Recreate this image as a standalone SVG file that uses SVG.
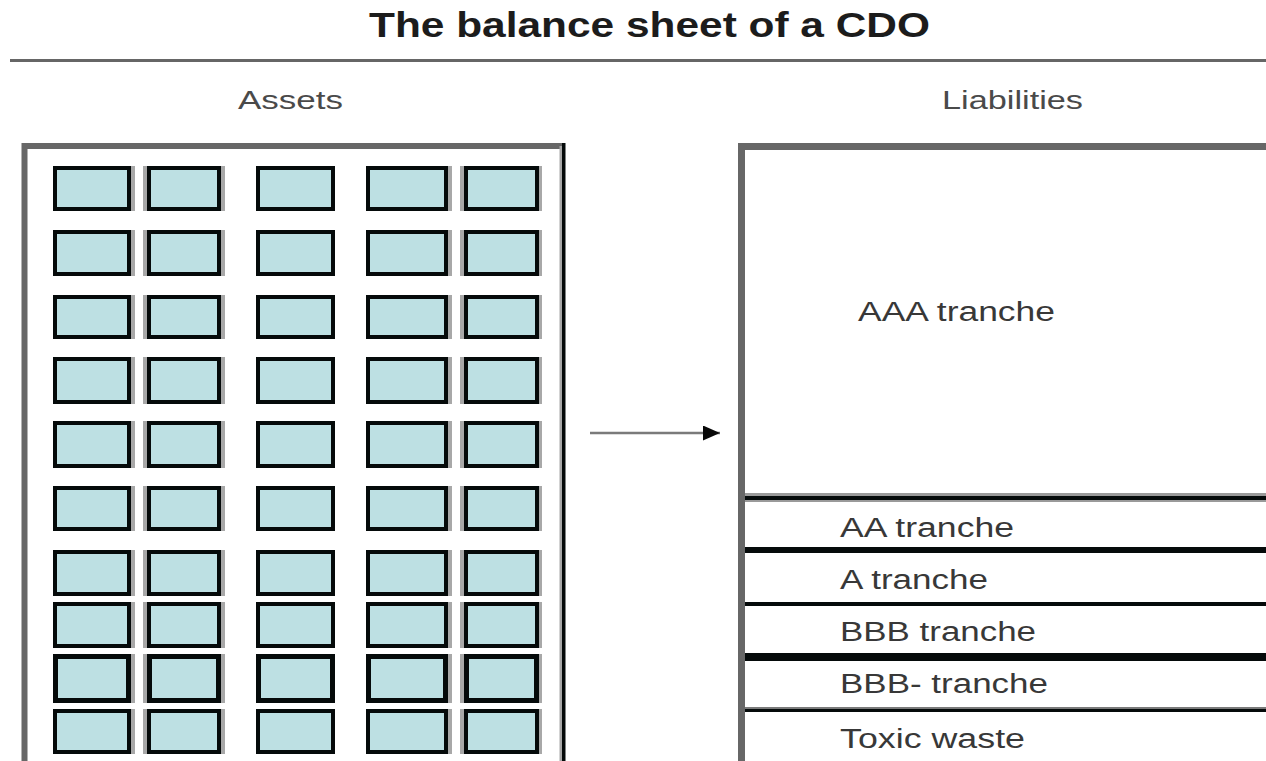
<svg xmlns="http://www.w3.org/2000/svg" width="1266" height="761" viewBox="0 0 1266 761">
  <style>
    .title { font-family: "Liberation Sans", Arial, sans-serif; font-weight: bold; font-size: 35px; fill: #1c1c1c; }
    .head { font-family: "Liberation Sans", Arial, sans-serif; font-size: 26px; fill: #4a4a4a; }
    .lbl { font-family: "Liberation Sans", Arial, sans-serif; font-size: 27px; fill: #383838; }
    .frame { fill: none; stroke: #676767; stroke-width: 6; }
    .cell { fill: #bde0e3; stroke: #050a0a; stroke-width: 4; }
    .sh { fill: #a8a8a8; }
    .gap { fill: #ffffff; }
    .rule { fill: #050a0a; }
    .conn { stroke: #7a7a7a; stroke-width: 2.5; fill: none; }
  </style>
  <defs>
    <marker id="arrow" viewBox="0 0 17 15" refX="17" refY="7.5" markerWidth="17" markerHeight="15" markerUnits="userSpaceOnUse" orient="auto">
      <path d="M0,0 L17,7.5 L0,15 Z" fill="#080808"/>
    </marker>
  </defs>

  <rect width="1266" height="761" fill="#ffffff"/>

  <!-- heading -->
  <text class="title" x="369" y="37" textLength="561" lengthAdjust="spacingAndGlyphs">The balance sheet of a CDO</text>
  <rect x="10" y="59" width="1256" height="3" fill="#666666"/>
  <text class="head" x="238" y="109" textLength="105" lengthAdjust="spacingAndGlyphs">Assets</text>
  <text class="head" x="942" y="109" textLength="141" lengthAdjust="spacingAndGlyphs">Liabilities</text>

  <!-- asset pool -->
  <g id="assets">
    <g id="asset-cells">
      <!-- grey shading beside the columns -->
      <rect class="sh" x="131" y="166" width="4" height="588"/>
      <rect class="sh" x="221" y="166" width="4" height="588"/>
      <rect class="sh" x="143" y="166" width="4" height="588"/>
      <rect class="sh" x="448" y="166" width="4" height="588"/>
      <rect class="sh" x="460" y="166" width="4" height="588"/>
      <rect class="sh" x="539" y="166" width="3" height="588"/>
      <!-- gaps between rows -->
      <rect class="gap" x="45" y="211" width="505" height="19"/>
      <rect class="gap" x="45" y="276" width="505" height="19"/>
      <rect class="gap" x="45" y="339" width="505" height="18"/>
      <rect class="gap" x="45" y="404" width="505" height="17"/>
      <rect class="gap" x="45" y="468" width="505" height="18"/>
      <rect class="gap" x="45" y="531" width="505" height="19"/>
      <rect class="gap" x="45" y="596" width="505" height="6"/>
      <rect class="gap" x="45" y="648" width="505" height="6"/>
      <rect class="gap" x="45" y="703" width="505" height="6"/>
      <!-- row 1 -->
      <rect class="cell" x="55" y="168" width="74" height="41"/>
      <rect class="cell" x="149" y="168" width="70" height="41"/>
      <rect class="cell" x="258" y="168" width="75" height="41"/>
      <rect class="cell" x="368" y="168" width="78" height="41"/>
      <rect class="cell" x="466" y="168" width="71" height="41"/>
      <!-- row 2 -->
      <rect class="cell" x="55" y="232" width="74" height="42"/>
      <rect class="cell" x="149" y="232" width="70" height="42"/>
      <rect class="cell" x="258" y="232" width="75" height="42"/>
      <rect class="cell" x="368" y="232" width="78" height="42"/>
      <rect class="cell" x="466" y="232" width="71" height="42"/>
      <!-- row 3 -->
      <rect class="cell" x="55" y="297" width="74" height="40"/>
      <rect class="cell" x="149" y="297" width="70" height="40"/>
      <rect class="cell" x="258" y="297" width="75" height="40"/>
      <rect class="cell" x="368" y="297" width="78" height="40"/>
      <rect class="cell" x="466" y="297" width="71" height="40"/>
      <!-- row 4 -->
      <rect class="cell" x="55" y="359" width="74" height="43"/>
      <rect class="cell" x="149" y="359" width="70" height="43"/>
      <rect class="cell" x="258" y="359" width="75" height="43"/>
      <rect class="cell" x="368" y="359" width="78" height="43"/>
      <rect class="cell" x="466" y="359" width="71" height="43"/>
      <!-- row 5 -->
      <rect class="cell" x="55" y="423" width="74" height="43"/>
      <rect class="cell" x="149" y="423" width="70" height="43"/>
      <rect class="cell" x="258" y="423" width="75" height="43"/>
      <rect class="cell" x="368" y="423" width="78" height="43"/>
      <rect class="cell" x="466" y="423" width="71" height="43"/>
      <!-- row 6 -->
      <rect class="cell" x="55" y="488" width="74" height="41"/>
      <rect class="cell" x="149" y="488" width="70" height="41"/>
      <rect class="cell" x="258" y="488" width="75" height="41"/>
      <rect class="cell" x="368" y="488" width="78" height="41"/>
      <rect class="cell" x="466" y="488" width="71" height="41"/>
      <!-- row 7 -->
      <rect class="cell" x="55" y="552" width="74" height="42"/>
      <rect class="cell" x="149" y="552" width="70" height="42"/>
      <rect class="cell" x="258" y="552" width="75" height="42"/>
      <rect class="cell" x="368" y="552" width="78" height="42"/>
      <rect class="cell" x="466" y="552" width="71" height="42"/>
      <!-- row 8 -->
      <rect class="cell" x="55" y="604" width="74" height="42"/>
      <rect class="cell" x="149" y="604" width="70" height="42"/>
      <rect class="cell" x="258" y="604" width="75" height="42"/>
      <rect class="cell" x="368" y="604" width="78" height="42"/>
      <rect class="cell" x="466" y="604" width="71" height="42"/>
      <!-- row 9 (heavier outline) -->
      <rect class="cell" x="55.5" y="656.5" width="73" height="44" style="stroke-width:5"/>
      <rect class="cell" x="149.5" y="656.5" width="69" height="44" style="stroke-width:5"/>
      <rect class="cell" x="258.5" y="656.5" width="74" height="44" style="stroke-width:5"/>
      <rect class="cell" x="368.5" y="656.5" width="77" height="44" style="stroke-width:5"/>
      <rect class="cell" x="466.5" y="656.5" width="70" height="44" style="stroke-width:5"/>
      <!-- row 10 -->
      <rect class="cell" x="55" y="711" width="74" height="41"/>
      <rect class="cell" x="149" y="711" width="70" height="41"/>
      <rect class="cell" x="258" y="711" width="75" height="41"/>
      <rect class="cell" x="368" y="711" width="78" height="41"/>
      <rect class="cell" x="466" y="711" width="71" height="41"/>
    </g>
    <!-- open-bottomed frame -->
    <path class="frame" d="M24.5,761 V146 H563"/>
    <rect x="559.5" y="146" width="2.5" height="615" fill="#a8a8a8"/>
    <rect x="562" y="143" width="3.5" height="618" fill="#050a0a"/>
  </g>

  <!-- tranche stack -->
  <g id="liabilities">
    <path class="frame" d="M741.5,761 V146.5 H1266" style="stroke-width:7"/>
    <g id="tranche-aaa">
      <text class="lbl" x="858" y="321" textLength="197" lengthAdjust="spacingAndGlyphs">AAA tranche</text>
    </g>
    <g id="tranche-aa">
      <rect x="745" y="493" width="521" height="9" fill="#9a9a9a"/>
      <rect class="rule" x="745" y="496" width="521" height="4"/>
      <text class="lbl" x="840" y="537" textLength="174" lengthAdjust="spacingAndGlyphs">AA tranche</text>
    </g>
    <g id="tranche-a">
      <rect class="rule" x="745" y="547" width="521" height="6"/>
      <text class="lbl" x="840" y="589" textLength="148" lengthAdjust="spacingAndGlyphs">A tranche</text>
    </g>
    <g id="tranche-bbb">
      <rect class="rule" x="745" y="602" width="521" height="4"/>
      <text class="lbl" x="840" y="641" textLength="196" lengthAdjust="spacingAndGlyphs">BBB tranche</text>
    </g>
    <g id="tranche-bbb-minus">
      <rect class="rule" x="745" y="653" width="521" height="8"/>
      <text class="lbl" x="840" y="693" textLength="208" lengthAdjust="spacingAndGlyphs">BBB- tranche</text>
    </g>
    <g id="tranche-toxic">
      <rect x="745" y="707" width="521" height="2" fill="#7a7a7a"/>
      <rect class="rule" x="745" y="709" width="521" height="3"/>
      <text class="lbl" x="840" y="748" textLength="185" lengthAdjust="spacingAndGlyphs">Toxic waste</text>
    </g>
  </g>

  <!-- connectors -->
  <g id="connectors">
    <line class="conn" x1="590" y1="433" x2="720" y2="433" marker-end="url(#arrow)"/>
  </g>
</svg>
